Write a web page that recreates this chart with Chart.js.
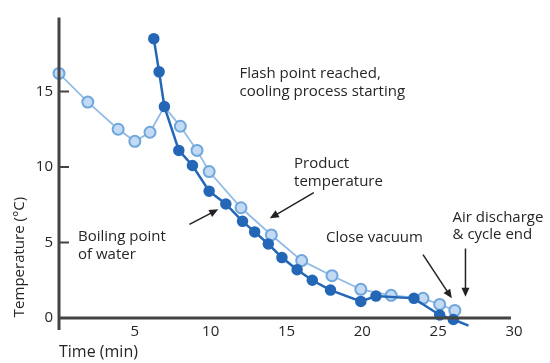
<!DOCTYPE html>
<html lang="en">
<head>
    <title>Vacuum cooling</title>
    <meta charset="utf-8">
    <script src="https://cdn.jsdelivr.net/npm/chart.js@4.4.0/dist/chart.umd.min.js"></script>
    <style>
        html, body { margin: 0; padding: 0; background: #fff; }
        #box { width: 550px; height: 363px; }
    </style>
</head>
<body>

<div id="box">
    <canvas id="cool-chart" width="550" height="363"></canvas>
</div>

<script>
// boiling point of water (dark, filled dots)
var boilTime = [6.25, 6.6, 6.95, 7.9, 8.8, 9.9, 11.0, 12.1, 12.9, 13.8, 14.7, 15.7, 16.7, 17.9, 19.9, 20.9, 23.4, 25.1, 26.0, 27.0];
var boilTemp = [18.5, 16.3, 14.0, 11.1, 10.1, 8.4, 7.55, 6.4, 5.7, 4.9, 4.0, 3.2, 2.5, 1.85, 1.1, 1.45, 1.3, 0.2, -0.1, -0.5];

// product temperature (light, hollow dots)
var prodTime = [0, 1.9, 3.9, 5.0, 6.0, 6.95, 8.0, 9.1, 9.9, 12.0, 14.0, 16.0, 18.0, 19.9, 21.9, 24.0, 25.1, 26.1];
var prodTemp = [16.2, 14.3, 12.5, 11.7, 12.3, 14.0, 12.7, 11.1, 9.7, 7.3, 5.5, 3.8, 2.8, 1.9, 1.5, 1.3, 0.9, 0.5];

var xTicks = [0, 5, 10, 15, 20, 25, 30];
var yTicks = [0, 5, 10, 15];

// notes: text lines with their anchor in chart units
var noteText = [
    ['Flash point reached,', 'cooling process starting'],
    ['Product', 'temperature'],
    ['Boiling point', 'of water'],
    ['Close vacuum'],
    ['Air discharge', '& cycle end']
];
var noteX = [11.9, 15.5, 1.25, 17.6, 25.95];
var noteY = [16.15, 10.2, 5.35, 5.3, 6.65];

// arrows: tail -> head, chart units
var arrowFrom = [[8.6, 6.2], [16.8, 8.3], [24.0, 4.2], [26.8, 4.6]];
var arrowTo = [[10.5, 7.2], [13.9, 6.6], [25.9, 1.3], [26.8, 1.4]];

function pts(xs, ys) {
    var out = [];
    for (var i = 0; i < xs.length; i++) out.push({x: xs[i], y: ys[i]});
    return out;
}

var ink = '#262626';
var font = '"Open Sans", "Liberation Sans", sans-serif';

var decor = {
    id: 'decor',
    afterDatasetsDraw: function(chart) {
        var ctx = chart.ctx;
        var xs = chart.scales.x, ys = chart.scales.y;
        var x0 = xs.getPixelForValue(0), y0 = ys.getPixelForValue(0);
        ctx.save();
        // axes
        ctx.strokeStyle = '#444';
        ctx.lineWidth = 3;
        ctx.beginPath();
        ctx.moveTo(x0, ys.getPixelForValue(19.9));
        ctx.lineTo(x0, y0 + 12);
        ctx.moveTo(x0, y0);
        ctx.lineTo(xs.getPixelForValue(29.8), y0);
        ctx.stroke();
        // inner ticks on y
        ctx.lineWidth = 2;
        yTicks.forEach(function(v) {
            if (v === 0) return;
            var p = ys.getPixelForValue(v);
            ctx.beginPath();
            ctx.moveTo(x0, p);
            ctx.lineTo(x0 + 10, p);
            ctx.stroke();
        });
        // arrows
        ctx.strokeStyle = '#222';
        ctx.fillStyle = '#222';
        ctx.lineWidth = 1.5;
        for (var i = 0; i < arrowFrom.length; i++) {
            var ax = xs.getPixelForValue(arrowFrom[i][0]), ay = ys.getPixelForValue(arrowFrom[i][1]);
            var bx = xs.getPixelForValue(arrowTo[i][0]), by = ys.getPixelForValue(arrowTo[i][1]);
            var ang = Math.atan2(by - ay, bx - ax);
            ctx.beginPath();
            ctx.moveTo(ax, ay);
            ctx.lineTo(bx - 6 * Math.cos(ang), by - 6 * Math.sin(ang));
            ctx.stroke();
            ctx.beginPath();
            ctx.moveTo(bx, by);
            ctx.lineTo(bx - 9 * Math.cos(ang) + 4 * Math.sin(ang), by - 9 * Math.sin(ang) - 4 * Math.cos(ang));
            ctx.lineTo(bx - 9 * Math.cos(ang) - 4 * Math.sin(ang), by - 9 * Math.sin(ang) + 4 * Math.cos(ang));
            ctx.closePath();
            ctx.fill();
        }
        // notes
        ctx.fillStyle = ink;
        ctx.font = '15px ' + font;
        ctx.textAlign = 'left';
        ctx.textBaseline = 'middle';
        for (var n = 0; n < noteText.length; n++) {
            var tx = xs.getPixelForValue(noteX[n]), ty = ys.getPixelForValue(noteY[n]);
            noteText[n].forEach(function(line, k) {
                ctx.fillText(line, tx, ty + k * 17.5);
            });
        }
        // axis titles
        ctx.font = '16px ' + font;
        ctx.fillText('Time (min)', x0, 352);
        ctx.font = '15px ' + font;
        ctx.translate(20, 257);
        ctx.rotate(-Math.PI / 2);
        ctx.textAlign = 'center';
        ctx.fillText('Temperature (\u00b0C)', 0, 0);
        ctx.restore();
    }
};

new Chart(document.getElementById('cool-chart'), {
    type: 'scatter',
    data: {
        datasets: [{
            label: 'Product temperature',
            data: pts(prodTime, prodTemp),
            showLine: true,
            borderColor: '#92bce6',
            borderWidth: 1.8,
            backgroundColor: '#c2daf3',
            pointBorderColor: '#6fa6dc',
            pointBorderWidth: 2,
            // the junction point is hidden under the dark series
            pointRadius: function(c) { return c.dataIndex === 5 ? 0 : 5.5; },
            order: 2
        }, {
            label: 'Boiling point of water',
            data: pts(boilTime, boilTemp),
            showLine: true,
            borderColor: '#2467b6',
            borderWidth: 2.5,
            backgroundColor: '#2467b6',
            pointBorderColor: '#2467b6',
            pointRadius: 4.5,
            order: 1
        }]
    },
    options: {
        responsive: false,
        animation: false,
        clip: false,
        layout: {padding: {top: 16, right: 36, left: 0, bottom: 0}},
        plugins: {legend: {display: false}, tooltip: {enabled: false}},
        scales: {
            x: {
                type: 'linear', min: 0, max: 30,
                afterFit: function(s) { s.height = 45; },
                afterBuildTicks: function(s) { s.ticks = xTicks.map(function(v) { return {value: v}; }); },
                grid: {display: false, drawTicks: false},
                border: {display: false},
                ticks: {
                    color: ink, font: {size: 15, family: font}, padding: 5,
                    callback: function(v) { return v === 0 ? '' : v; }
                }
            },
            y: {
                type: 'linear', min: 0, max: 20,
                afterFit: function(s) { s.width = 59; },
                afterBuildTicks: function(s) { s.ticks = yTicks.map(function(v) { return {value: v}; }); },
                grid: {display: false, drawTicks: false},
                border: {display: false},
                ticks: {color: ink, font: {size: 15, family: font}, padding: 6}
            }
        }
    },
    plugins: [decor]
});
</script>
</body>
</html>
